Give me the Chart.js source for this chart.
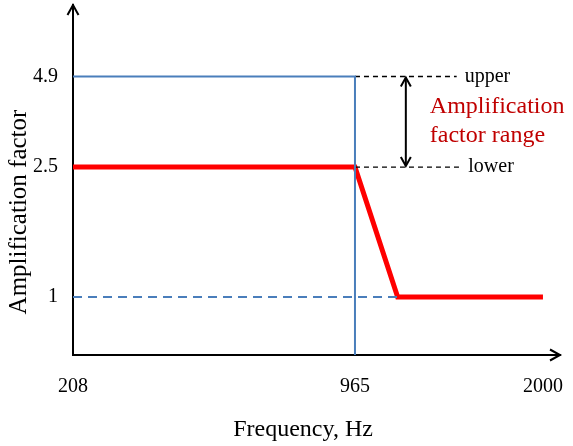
<!DOCTYPE html>
<html>
<head>
<meta charset="utf-8">
<script src="https://cdn.jsdelivr.net/npm/chart.js@4.4.1/dist/chart.umd.min.js"></script>
<style>
  html, body { margin: 0; padding: 0; background: #fff; }
  #wrap { width: 573px; height: 446px; }
</style>
</head>
<body>
<div id="wrap"><canvas id="amp"></canvas></div>
<script>
const freqTicks = [208, 965, 2000];
const ampTicks = [1, 2.5, 4.9];

// amplification of the filter
const responseFreq = [208, 965, 1200, 2000];
const responseAmp = [2.5, 2.5, 1, 1];

// upper limit, cut off at 965 Hz
const limitFreq = [208, 965, 965];
const limitAmp = [4.9, 4.9, 0];

// unity level
const unityFreq = [208, 1200];
const unityAmp = [1, 1];

// range marker between upper and lower
const rangeUpper = 4.9;
const rangeLower = 2.5;
const rangeFreq = 1245;
const upperLeaderFreq = [965, 1525];
const lowerLeaderFreq = [965, 1545];

const serif = '"Liberation Serif", "Times New Roman", serif';

// axes are schematic, so each one is stretched piece by piece
const scaleBreaks = {
  x: [[208, 0], [965, 0.579], [2000, 0.965], [2094, 1]],
  y: [[0, 0], [1, 0.1657], [2.5, 0.537], [4.9, 0.7957], [6.2, 1]]
};

class PiecewiseScale extends Chart.LinearScale {
  toDecimal(v) {
    const b = scaleBreaks[this.id];
    if (v <= b[0][0]) return b[0][1];
    for (let i = 1; i < b.length; i++) {
      if (v <= b[i][0]) {
        const [v0, d0] = b[i - 1];
        const [v1, d1] = b[i];
        return d0 + (v - v0) / (v1 - v0) * (d1 - d0);
      }
    }
    return b[b.length - 1][1];
  }
  getPixelForValue(v) {
    return this.getPixelForDecimal(this.toDecimal(v));
  }
}
PiecewiseScale.id = 'piecewise';
PiecewiseScale.defaults = Chart.LinearScale.defaults;
Chart.register(PiecewiseScale);

const pts = (xs, ys) => xs.map((v, i) => ({ x: v, y: ys[i] }));

// fixed axis box, no extra room for edge labels
const fixBox = size => s => {
  if (s.isHorizontal()) s.height = size; else s.width = size;
  s.paddingTop = s.paddingBottom = s.paddingLeft = s.paddingRight = 0;
};

function arrowHead(ctx, x, y, dx, dy, len, half) {
  // open chevron pointing along (dx, dy)
  const px = -dy, py = dx;
  ctx.beginPath();
  ctx.moveTo(x - dx * len + px * half, y - dy * len + py * half);
  ctx.lineTo(x, y);
  ctx.lineTo(x - dx * len - px * half, y - dy * len - py * half);
  ctx.stroke();
}

const notes = {
  id: 'notes',
  afterDraw(chart) {
    const { ctx, chartArea: a, scales: { x, y } } = chart;
    ctx.save();
    ctx.strokeStyle = '#000';
    ctx.lineWidth = 2;
    ctx.lineJoin = 'miter';

    // axis arrows
    arrowHead(ctx, a.left, a.top, 0, -1, 10, 5.5);
    arrowHead(ctx, a.right, a.bottom, 1, 0, 10, 5.5);

    // double arrow for the range
    const ax = x.getPixelForValue(rangeFreq);
    const yU = y.getPixelForValue(rangeUpper);
    const yL = y.getPixelForValue(rangeLower);
    ctx.beginPath();
    ctx.moveTo(ax, yU + 1);
    ctx.lineTo(ax, yL - 1);
    ctx.stroke();
    arrowHead(ctx, ax, yU + 1, 0, -1, 9, 5);
    arrowHead(ctx, ax, yL - 1, 0, 1, 9, 5);

    ctx.fillStyle = '#000';
    ctx.textBaseline = 'middle';
    ctx.textAlign = 'left';
    ctx.font = '20px ' + serif;
    ctx.fillText('upper', x.getPixelForValue(upperLeaderFreq[1]) + 8, yU);
    ctx.fillText('lower', x.getPixelForValue(lowerLeaderFreq[1]) + 8, yL);

    ctx.fillStyle = '#c00000';
    ctx.font = '24px ' + serif;
    const mid = (yU + yL) / 2;
    ctx.fillText('Amplification', ax + 24, mid - 15);
    ctx.fillText('factor range', ax + 24, mid + 14);

    // axis titles
    ctx.fillStyle = '#000';
    ctx.textAlign = 'center';
    ctx.font = '24px ' + serif;
    ctx.fillText('Frequency, Hz', 303, 430);
    ctx.translate(19, 212);
    ctx.rotate(-Math.PI / 2);
    ctx.font = '25px ' + serif;
    ctx.fillText('Amplification factor', 0, 0);
    ctx.restore();
  }
};

new Chart(document.getElementById('amp'), {
  type: 'line',
  data: {
    datasets: [
      {
        data: pts(limitFreq, limitAmp),
        borderColor: '#4a7ebb', borderWidth: 2, order: 0
      },
      {
        data: pts(unityFreq, unityAmp),
        borderColor: '#4a7ebb', borderWidth: 2, borderDash: [9, 6], order: 0
      },
      {
        data: pts(upperLeaderFreq, [rangeUpper, rangeUpper]),
        borderColor: '#000', borderWidth: 1.3, borderDash: [5, 4], order: 0
      },
      {
        data: pts(lowerLeaderFreq, [rangeLower, rangeLower]),
        borderColor: '#000', borderWidth: 1.3, borderDash: [5, 4], order: 0
      },
      {
        data: pts(responseFreq, responseAmp),
        borderColor: '#ff0000', borderWidth: 5, borderJoinStyle: 'miter', order: 1
      }
    ]
  },
  options: {
    responsive: true,
    maintainAspectRatio: false,
    animation: false,
    events: [],
    elements: { point: { radius: 0 }, line: { tension: 0, fill: false } },
    layout: { padding: { top: 5, right: 13, left: 0, bottom: 0 } },
    plugins: { legend: { display: false }, tooltip: { enabled: false } },
    scales: {
      x: {
        type: 'piecewise',
        min: 208, max: 2094,
        afterBuildTicks: s => { s.ticks = freqTicks.map(v => ({ value: v })); },
        afterFit: fixBox(91),
        grid: { display: false, drawTicks: false },
        border: { display: true, color: '#000', width: 2 },
        ticks: {
          color: '#000', padding: 20, maxRotation: 0, autoSkip: false,
          font: { family: serif, size: 20 },
          callback: v => String(v)
        }
      },
      y: {
        type: 'piecewise',
        min: 0, max: 6.2,
        afterBuildTicks: s => { s.ticks = ampTicks.map(v => ({ value: v })); },
        afterFit: fixBox(73),
        grid: { display: false, drawTicks: false },
        border: { display: true, color: '#000', width: 2 },
        ticks: {
          color: '#000', padding: 15, autoSkip: false,
          font: { family: serif, size: 20 },
          callback: v => String(v)
        }
      }
    }
  },
  plugins: [notes]
});
</script>
</body>
</html>
